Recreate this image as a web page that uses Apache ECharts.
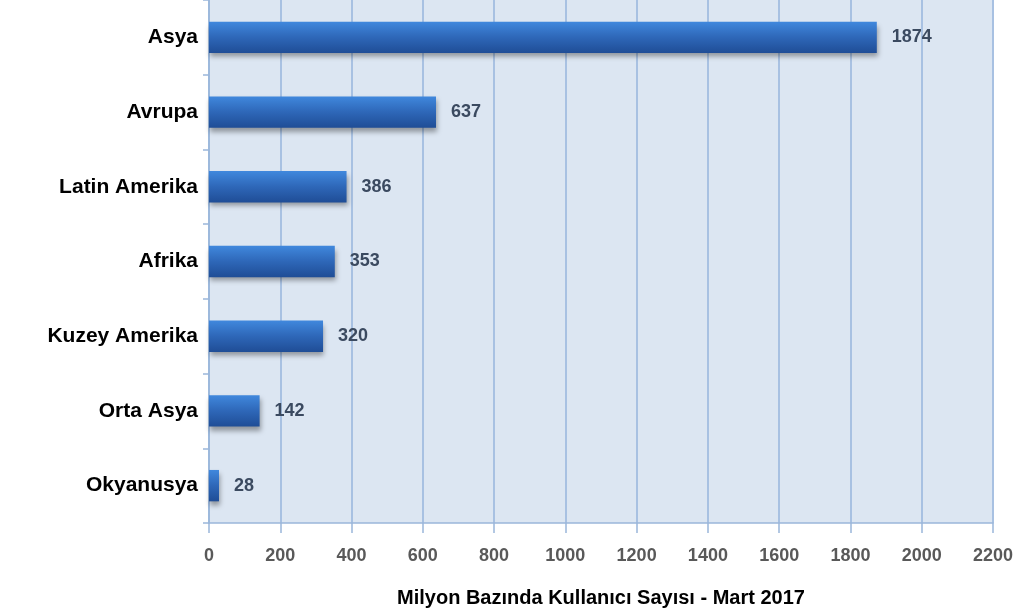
<!DOCTYPE html>
<html><head><meta charset="utf-8">
<script src="https://cdn.jsdelivr.net/npm/echarts@6/dist/echarts.min.js"></script>
<style>html,body{margin:0;padding:0;background:#fff}#c{width:1016px;height:613px}</style>
</head><body><div id="c"></div>
<script>
const categories = ['Asya','Avrupa','Latin Amerika','Afrika','Kuzey Amerika','Orta Asya','Okyanusya'];
const values = [1874, 637, 386, 353, 320, 142, 28];
const xTicks = {min: 0, max: 2200, interval: 200};
const axisTitle = 'Milyon Bazında Kullanıcı Sayısı - Mart 2017';

// detect a narrow font
function hasFont(f) {
  const ctx = document.createElement('canvas').getContext('2d');
  ctx.font = 'bold 40px monospace';
  const a = ctx.measureText('0123456789abc').width;
  ctx.font = "bold 40px '" + f + "', monospace";
  const b = ctx.measureText('0123456789abc').width;
  return Math.abs(a - b) > 0.5;
}
let numFont = "'Liberation Sans', Arial, sans-serif", numSize = 18;
if (hasFont('Liberation Sans Narrow')) { numFont = "'Liberation Sans Narrow', sans-serif"; numSize = 22; }
else if (hasFont('Arial Narrow')) { numFont = "'Arial Narrow', sans-serif"; numSize = 22; }
const catFont = "'Liberation Sans', Arial, sans-serif";

const chart = echarts.init(document.getElementById('c'));
chart.setOption({
  animation: false,
  grid: {left: 209, right: 20, top: 0, bottom: 90, show: true, backgroundColor: '#dce6f2', borderWidth: 0},
  xAxis: {
    type: 'value', min: xTicks.min, max: xTicks.max, interval: xTicks.interval,
    name: axisTitle, nameLocation: 'middle', nameGap: 65,
    nameTextStyle: {fontFamily: catFont, fontWeight: 'bold', fontSize: 20, color: '#000'},
    axisLine: {show: true, lineStyle: {color: '#9ab6da', width: 1.5}},
    axisTick: {show: true, length: 10, lineStyle: {color: '#9ab6da', width: 1.5}},
    axisLabel: {margin: 24, fontFamily: numFont, fontWeight: 'bold', fontSize: numSize, color: '#595959',
      formatter: v => String(v)},
    splitLine: {show: true, lineStyle: {color: '#a8c1e2', width: 2}}
  },
  yAxis: {
    type: 'category', data: categories, inverse: true,
    axisLine: {show: true, lineStyle: {color: '#9ab6da', width: 1.5}},
    axisTick: {show: true, length: 6, lineStyle: {color: '#9ab6da', width: 1.5}},
    axisLabel: {margin: 11, fontFamily: catFont, fontWeight: 'bold', fontSize: 21, color: '#000', padding: [4, 0, 0, 0]},
    splitLine: {show: false}
  },
  series: [{
    type: 'bar', data: values, barWidth: '42%',
    itemStyle: {
      color: new echarts.graphic.LinearGradient(0, 0, 0, 1, [
        {offset: 0, color: '#4088dd'}, {offset: 0.5, color: '#2e67b8'}, {offset: 1, color: '#1f4d96'}
      ]),
      shadowColor: 'rgba(0,0,0,0.35)', shadowBlur: 5, shadowOffsetY: 4, shadowOffsetX: 1
    },
    label: {show: true, position: 'right', distance: 15, fontFamily: numFont, fontWeight: 'bold', fontSize: numSize, color: '#3b4a60', padding: [3, 0, 0, 0]}
  }]
});
</script></body></html>
